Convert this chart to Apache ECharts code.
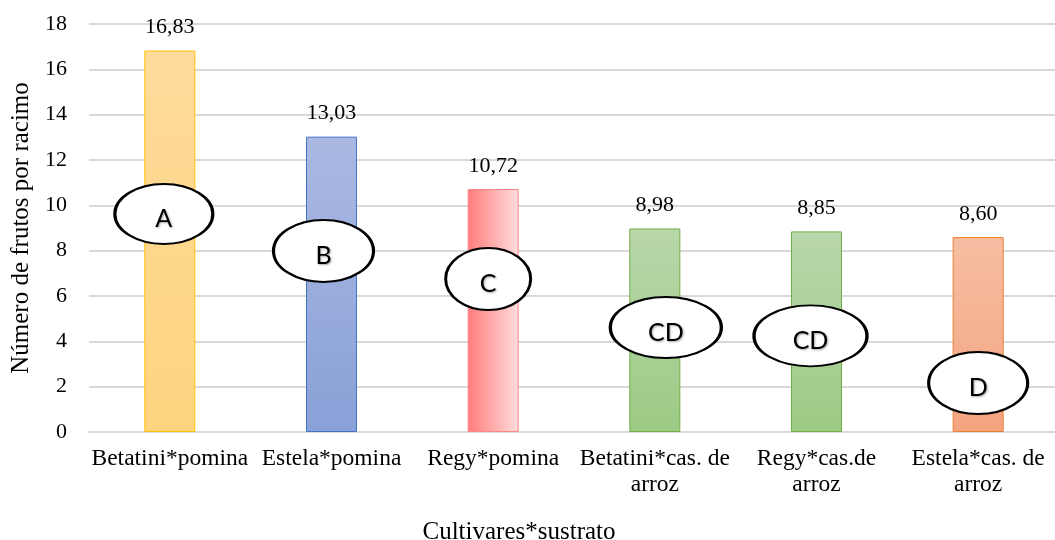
<!DOCTYPE html>
<html>
<head>
<meta charset="utf-8">
<script src="https://cdn.jsdelivr.net/npm/echarts@6/dist/echarts.min.js"></script>
<style>
  html, body { margin: 0; padding: 0; background: #fff; }
  #chart { width: 1055px; height: 540px; }
</style>
</head>
<body>
<div id="chart"></div>
<script>
// Número de frutos por racimo por combinación cultivar*sustrato
const categories = [
  'Betatini*pomina',
  'Estela*pomina',
  'Regy*pomina',
  'Betatini*cas. de\narroz',
  'Regy*cas.de\narroz',
  'Estela*cas. de\narroz'
];
const frutosPorRacimo = [16.83, 13.03, 10.72, 8.98, 8.85, 8.60];

// Grupos de la prueba de medias y la altura (en unidades del eje) a la que se rotula cada uno
const grupos = ['A', 'B', 'C', 'CD', 'CD', 'D'];
const alturaGrupo = [9.62, 7.99, 6.75, 4.61, 4.24, 2.16];

const yTicks = { min: 0, max: 18, interval: 2 };

// Estilo de cada barra: degradado de relleno y color del borde
const barStyles = [
  { from: '#FEDB9B', to: '#FDD47F', dir: 'v', border: '#FFC000' },
  { from: '#AAB9E2', to: '#89A1D8', dir: 'v', border: '#4472C4' },
  { from: '#FF7C7C', to: '#FFDCDC', dir: 'h', border: '#FF8585' },
  { from: '#B8D7AA', to: '#9DCA85', dir: 'v', border: '#70AD47' },
  { from: '#B8D7AA', to: '#9DCA85', dir: 'v', border: '#70AD47' },
  { from: '#F6BEA3', to: '#F4A47F', dir: 'v', border: '#ED7D31' }
];
// Tamaño y desplazamiento horizontal de cada elipse
const ellipseLayout = [
  { w: 98, h: 60, dx: -6 },
  { w: 100, h: 62, dx: -8 },
  { w: 85, h: 62, dx: -5 },
  { w: 111, h: 61, dx: 11 },
  { w: 113, h: 61, dx: -6 },
  { w: 99, h: 62, dx: 0 }
];

const serif = 'Liberation Serif';

const barData = frutosPorRacimo.map((v, i) => {
  const s = barStyles[i];
  const grad = s.dir === 'v'
    ? new echarts.graphic.LinearGradient(0, 0, 0, 1, [{ offset: 0, color: s.from }, { offset: 1, color: s.to }])
    : new echarts.graphic.LinearGradient(0, 0, 1, 0, [{ offset: 0, color: s.from }, { offset: 1, color: s.to }]);
  return { value: v, itemStyle: { color: grad, borderColor: s.border, borderWidth: 1 } };
});

const ellipseData = alturaGrupo.map((v, i) => {
  const l = ellipseLayout[i];
  return {
    value: [i, v],
    name: grupos[i],
    symbolSize: [l.w, l.h],
    symbolOffset: [l.dx, 0]
  };
});

const chart = echarts.init(document.getElementById('chart'), null, { renderer: 'canvas' });
chart.setOption({
  animation: false,
  backgroundColor: '#ffffff',
  grid: { left: 89, top: 24, width: 970, height: 408, containLabel: false, outerBoundsMode: 'none' },
  xAxis: {
    type: 'category',
    data: categories,
    name: 'Cultivares*sustrato',
    nameLocation: 'middle',
    nameGap: 88,
    nameTextStyle: { fontFamily: serif, fontSize: 25, color: '#000', padding: [0, 110, 0, 0] },
    axisLine: { show: true, lineStyle: { color: '#D9D9D9', width: 2 } },
    axisTick: { show: false },
    axisLabel: {
      interval: 0,
      margin: 14,
      fontFamily: serif,
      fontSize: 23.5,
      lineHeight: 26,
      color: '#000',
      formatter: v => v.split('\n').map(s => '{c|' + s + '}').join('\n'),
      rich: { c: { fontFamily: serif, fontSize: 23.5, lineHeight: 26, color: '#000' } }
    }
  },
  yAxis: {
    type: 'value',
    min: yTicks.min,
    max: yTicks.max,
    interval: yTicks.interval,
    name: 'Número de frutos por racimo',
    nameLocation: 'middle',
    nameGap: 54,
    nameTextStyle: { fontFamily: serif, fontSize: 25, color: '#000' },
    axisLine: { show: false },
    axisTick: { show: false },
    axisLabel: { margin: 22, fontFamily: serif, fontSize: 22, color: '#000' },
    splitLine: { lineStyle: { color: '#D9D9D9', width: 2 } }
  },
  series: [
    {
      type: 'bar',
      data: barData,
      barWidth: 51,
      z: 2,
      label: {
        show: true,
        position: 'top',
        distance: 12,
        fontFamily: serif,
        fontSize: 22,
        color: '#000',
        formatter: p => p.value.toFixed(2).replace('.', ',')
      }
    },
    {
      type: 'scatter',
      data: ellipseData,
      symbol: 'circle',
      z: 5,
      itemStyle: { color: '#ffffff', borderColor: '#000000', borderWidth: 2.5, opacity: 1 },
      label: {
        show: true,
        position: 'inside',
        offset: [0, 5],
        formatter: p => p.name,
        fontFamily: 'Lato',
        fontSize: 25,
        color: '#000',
        textShadowColor: 'rgba(0,0,0,0.35)',
        textShadowBlur: 2,
        textShadowOffsetX: 1,
        textShadowOffsetY: 1
      },
      emphasis: { disabled: true }
    }
  ]
});
</script>
</body>
</html>
